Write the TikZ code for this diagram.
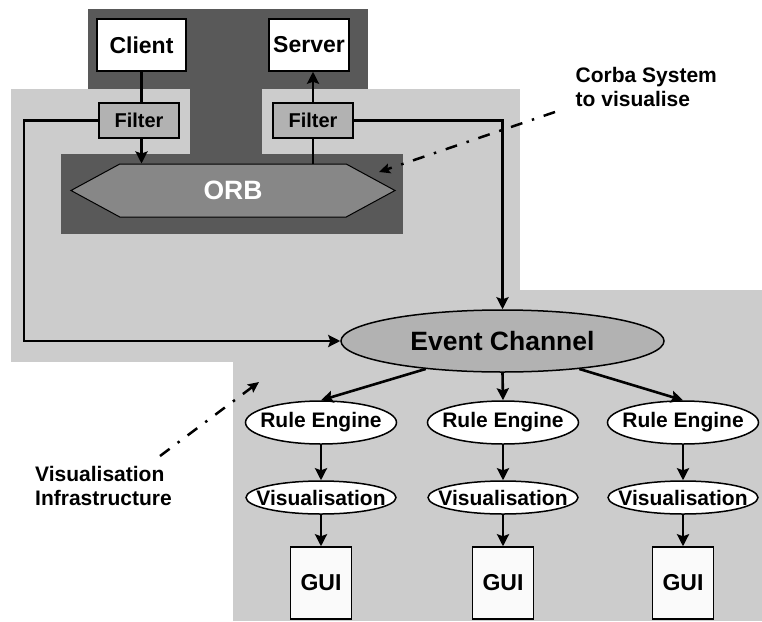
\documentclass[tikz,border=0pt]{standalone}
\usepackage{fontspec}
\setmainfont{Liberation Sans}
\usetikzlibrary{shapes,arrows.meta,positioning,calc}

\definecolor{darkbg}{gray}{0.35}
\definecolor{lightbg}{gray}{0.8}
\definecolor{orbfill}{gray}{0.53}
\definecolor{filterfill}{gray}{0.70}
\definecolor{eventfill}{gray}{0.70}
\definecolor{guifill}{gray}{0.98}

\begin{document}
\begin{tikzpicture}[x=1pt, y=-1pt,
    box/.style={rectangle, draw=black, line width=1.5pt, fill=white, inner sep=0pt, font=\fontsize{23}{27}\selectfont\bfseries},
    filterbox/.style={rectangle, draw=black, line width=1.5pt, fill=filterfill, minimum width=80pt, minimum height=35pt, inner sep=0pt, font=\fontsize{20}{24}\selectfont\bfseries},
    oval/.style={ellipse, draw=black, line width=1.5pt, fill=white, minimum width=151pt, inner sep=0pt, font=\fontsize{21}{25}\selectfont\bfseries,
        execute at begin node={\hbox to 0pt\bgroup\hss}, execute at end node={\hss\egroup}},
    flow/.style={-{Stealth[length=12pt, width=12pt, inset=2pt]}, line width=2.6pt},
    link/.style={line width=2.6pt},
    pointer/.style={-{Stealth[length=11pt, width=10pt, inset=2pt]}, line width=2.5pt, dash pattern=on 12pt off 10pt on 2.5pt off 10pt},
    note/.style={align=left, inner sep=0pt, font=\fontsize{21}{24}\selectfont\bfseries}
]
    \useasboundingbox (0,0) rectangle (762,621);

    % Grey areas
    \fill[darkbg] (88,9) rectangle (368,89);
    \fill[lightbg] (11,89) rectangle (520,362);
    \fill[lightbg] (233,290) rectangle (762,621);
    \fill[darkbg] (190,88) rectangle (262,155);
    \fill[darkbg] (61,154) rectangle (403,234);

    % Corba system
    \node[box, minimum width=89pt, minimum height=52pt] (client) at (141.5,45) {Client};
    \node[box, minimum width=80pt, minimum height=52pt] (server) at (309,45) {Server};
    \node[filterbox] (filterL) at (139,120.5) {Filter};
    \node[filterbox] (filterR) at (313,120.5) {Filter};
    \node[signal, signal to=east and west, signal pointer angle=57, draw=black, line width=1pt, fill=orbfill,
          minimum width=324pt, minimum height=53pt, inner sep=0pt, text=white,
          font=\fontsize{26.5}{30}\selectfont\bfseries] (orb) at (233,190.5) {ORB};

    % Visualisation infrastructure
    \node[ellipse, draw=black, line width=1.5pt, fill=eventfill, minimum width=323pt, minimum height=62pt, inner sep=0pt,
          font=\fontsize{26.5}{30}\selectfont\bfseries] (evt) at (502.5,341) {Event Channel};
    \foreach \i/\x in {1/321, 2/503, 3/683} {
        \node[oval, minimum height=43pt] (rule\i) at (\x,422.5) {Rule Engine};
        \node[oval, minimum width=150pt, minimum height=33pt] (vis\i) at (\x,497.5) {Visualisation};
        \node[box, fill=guifill, minimum width=61pt, minimum height=72pt] (gui\i) at (\x,583) {GUI};
        \draw[flow] (rule\i) -- (vis\i);
        \draw[flow] (vis\i) -- (gui\i);
    }

    % Flow arrows
    \draw[link] (client) -- (client |- filterL.north);
    \draw[flow] (client |- filterL.south) -- (client |- orb.north);
    \draw[link] (filterR |- orb.north) -- (filterR.south);
    \draw[flow] (filterR.north) -- (filterR |- server.south);
    \coordinate (lbend) at (24,341);
    \draw[flow] (filterL.west) -| (lbend) -- (evt.west);
    \draw[flow] (filterR.east) -| (evt.north);
    \draw[flow] (evt.200) -- (rule1.north);
    \draw[flow] (evt.south) -- (rule2.north);
    \draw[flow] (evt.340) -- (rule3.north);

    % Annotations
    \node[note, anchor=base west] (corba) at (575.5,106) {Corba System\\to visualise};
    \node[note, anchor=base west] (infra) at (35,505) {Visualisation\\Infrastructure};
    \coordinate (corbatail) at (555,112);
    \coordinate (corbatip) at (379,172);
    \coordinate (infratail) at (160,456);
    \coordinate (infratip) at (259,382);
    \draw[pointer] (corbatail) -- (corbatip);
    \draw[pointer] (infratail) -- (infratip);
\end{tikzpicture}
\end{document}
